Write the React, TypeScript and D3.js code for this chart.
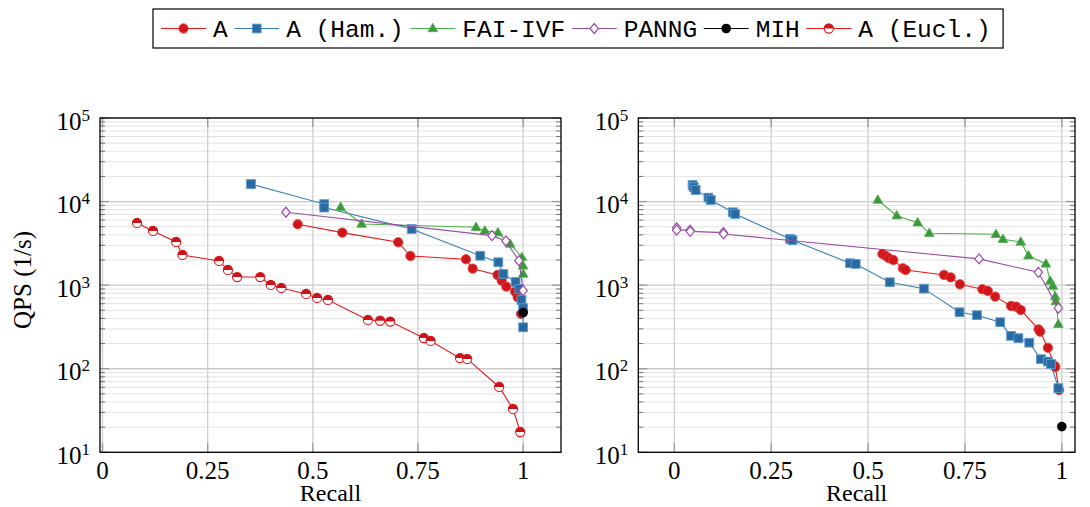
import React from "react";
import * as d3 from "d3";

// ---------- data ----------
const xTicks = [0, 0.25, 0.5, 0.75, 1];
const xTickLabels = ["0", "0.25", "0.5", "0.75", "1"];
const yTickExps = [1, 2, 3, 4, 5];
const seriesNames = ["A", "A (Ham.)", "FAI-IVF", "PANNG", "MIH", "A (Eucl.)"];

type Pt = [number, number];

// Left panel
const leftA: Pt[] = [
  [0.464, 5350], [0.57, 4250], [0.703, 3260], [0.732, 2230], [0.864, 2040], [0.88, 1575],
  [0.939, 1325], [0.949, 1132], [0.96, 960], [0.981, 836], [0.987, 716], [0.995, 453],
];
const leftHam: Pt[] = [
  [0.353, 16200], [0.527, 9330], [0.527, 8480], [0.735, 4700], [0.898, 2250], [0.941, 1880],
  [0.953, 1360], [0.982, 1090], [0.991, 900], [0.996, 665], [1.0, 530], [1.0, 313],
];
const leftFai: Pt[] = [
  [0.566, 8550], [0.616, 5400], [0.888, 4920], [0.909, 4480], [0.94, 4250], [0.969, 3110],
  [0.997, 2150], [1.0, 1700], [1.0, 1360],
];
const leftPanng: Pt[] = [
  [0.436, 7450], [0.926, 3910], [0.959, 3380], [0.99, 1960], [1.0, 860],
];
const leftMih: Pt[] = [[1.0, 469]];
const leftEucl: Pt[] = [
  [0.082, 5550], [0.12, 4450], [0.175, 3290], [0.19, 2300], [0.277, 1950], [0.298, 1520],
  [0.32, 1250], [0.375, 1250], [0.4, 1005], [0.425, 925], [0.484, 785], [0.51, 703],
  [0.536, 665], [0.631, 384], [0.66, 375], [0.684, 367], [0.764, 233], [0.78, 215],
  [0.85, 134], [0.867, 131], [0.943, 60.5], [0.976, 33], [0.993, 17.5],
];

// Right panel
const rightA: Pt[] = [
  [0.537, 2360], [0.546, 2235], [0.554, 2100], [0.565, 2000], [0.59, 1590], [0.597, 1520],
  [0.696, 1325], [0.713, 1240], [0.737, 1023], [0.795, 893], [0.809, 852], [0.828, 729],
  [0.869, 564], [0.882, 553], [0.894, 505], [0.94, 296], [0.944, 278], [0.964, 178],
  [0.981, 109], [0.983, 105], [0.993, 55.7],
];
const rightHam: Pt[] = [
  [0.047, 15800], [0.05, 14900], [0.055, 13770], [0.088, 11150], [0.094, 10450],
  [0.151, 7450], [0.157, 7110], [0.299, 3570], [0.305, 3450], [0.4535, 1830], [0.468, 1795],
  [0.556, 1083], [0.644, 908], [0.736, 474], [0.781, 437], [0.841, 360], [0.869, 247],
  [0.888, 232], [0.916, 205], [0.946, 130], [0.964, 122], [0.972, 114], [0.991, 58.5],
];
const rightFai: Pt[] = [
  [0.525, 10450], [0.574, 6780], [0.628, 5590], [0.658, 4180], [0.83, 4060], [0.848, 3540],
  [0.894, 3290], [0.914, 2250], [0.959, 1795], [0.97, 1120], [0.977, 977], [0.983, 729],
  [0.9845, 635], [0.991, 340],
];
const rightPanng: Pt[] = [
  [0.006, 4850], [0.006, 4550], [0.0405, 4550], [0.041, 4400], [0.1265, 4250], [0.127, 4100],
  [0.7865, 2060], [0.9396, 1425], [0.991, 530],
];
const rightMih: Pt[] = [[1.0, 20.3]];
const rightEucl: Pt[] = [];

// ---------- styles ----------
const RED = "#e41a1c";
const styles = [
  { line: RED, marker: "circle" },
  { line: "#377eb8", marker: "square" },
  { line: "#4daf4a", marker: "triangle" },
  { line: "#984ea3", marker: "diamond" },
  { line: "#000000", marker: "dot" },
  { line: RED, marker: "half" },
];

const SERIF = "'Liberation Serif', 'DejaVu Serif', serif";
const MONO = "'Liberation Mono', 'DejaVu Sans Mono', monospace";

const TOP = 118;
const BOTTOM = 452.3;

function Marker({ type, x, y }: { type: string; x: number; y: number }) {
  switch (type) {
    case "circle":
      return <circle cx={x} cy={y} r={4.7} fill="#d1161b" stroke="#e8403f" strokeWidth={0.8} />;
    case "square":
      return <rect x={x - 4.4} y={y - 4.4} width={8.8} height={8.8} fill="#2b6aa1" stroke="#5d9cd3" strokeWidth={0.9} />;
    case "triangle":
      return (
        <path d={`M${x},${y - 5.2}L${x + 4.8},${y + 3.2}L${x - 4.8},${y + 3.2}Z`} fill="#3b9a3b" stroke="#4daf4a" strokeWidth={0.8} />
      );
    case "diamond":
      return (
        <path d={`M${x},${y - 5}L${x + 4.2},${y}L${x},${y + 5}L${x - 4.2},${y}Z`} fill="#ffffff" stroke="#984ea3" strokeWidth={1.2} />
      );
    case "dot":
      return <circle cx={x} cy={y} r={4.8} fill="#000000" />;
    case "half":
      return (
        <g>
          <circle cx={x} cy={y} r={4.6} fill="#ffffff" stroke={RED} strokeWidth={1.1} />
          <path d={`M${x - 4.6},${y}A4.6,4.6 0 0 1 ${x + 4.6},${y}Z`} fill="#c8141a" />
        </g>
      );
  }
  return null;
}

function Panel({ left, right, xDomain, series }: { left: number; right: number; xDomain: [number, number]; series: Pt[][] }) {
  const x = d3.scaleLinear().domain(xDomain).range([left, right]);
  const y = d3.scaleLog().domain([10, 1e5]).range([BOTTOM, TOP]);
  const minors: number[] = [];
  for (let e = 1; e < 5; e++) for (let k = 2; k <= 9; k++) minors.push(k * Math.pow(10, e));
  const line = d3.line<Pt>().x((d) => x(d[0])).y((d) => y(d[1]));
  return (
    <g>
      {minors.map((v) => (
        <line key={"mg" + v} x1={left} x2={right} y1={y(v)} y2={y(v)} stroke="#e3e3e3" strokeWidth={1} />
      ))}
      {yTickExps.map((e) => (
        <line key={"Mg" + e} x1={left} x2={right} y1={y(Math.pow(10, e))} y2={y(Math.pow(10, e))} stroke="#c9c9c9" strokeWidth={1.3} />
      ))}
      {xTicks.map((t) => (
        <line key={"xg" + t} x1={x(t)} x2={x(t)} y1={TOP} y2={BOTTOM} stroke="#cfcfcf" strokeWidth={1.3} />
      ))}
      {minors.map((v) => (
        <g key={"mt" + v}>
          <line x1={left} x2={left + 5} y1={y(v)} y2={y(v)} stroke="#666" strokeWidth={0.9} />
          <line x1={right} x2={right - 5} y1={y(v)} y2={y(v)} stroke="#666" strokeWidth={0.9} />
        </g>
      ))}
      {yTickExps.map((e) => (
        <g key={"Mt" + e}>
          <line x1={left} x2={left + 9} y1={y(Math.pow(10, e))} y2={y(Math.pow(10, e))} stroke="#999" strokeWidth={1.3} />
          <line x1={right} x2={right - 9} y1={y(Math.pow(10, e))} y2={y(Math.pow(10, e))} stroke="#999" strokeWidth={1.3} />
        </g>
      ))}
      {xTicks.map((t) => (
        <g key={"xt" + t}>
          <line x1={x(t)} x2={x(t)} y1={BOTTOM} y2={BOTTOM - 9} stroke="#999" strokeWidth={1.3} />
          <line x1={x(t)} x2={x(t)} y1={TOP} y2={TOP + 9} stroke="#999" strokeWidth={1.3} />
        </g>
      ))}
      {series.map((pts, i) => (
        <g key={"s" + i}>
          {pts.length > 1 && <path d={line(pts) || ""} fill="none" stroke={styles[i].line} strokeWidth={1.1} />}
          {pts.map((p, j) => (
            <Marker key={j} type={styles[i].marker} x={x(p[0])} y={y(p[1])} />
          ))}
        </g>
      ))}
      <rect x={left} y={TOP} width={right - left} height={BOTTOM - TOP} fill="none" stroke="#000" strokeWidth={1.3} />
      {xTicks.map((t, i) => (
        <text key={"xl" + t} x={x(t)} y={479} textAnchor="middle" fontFamily={SERIF} fontSize={25} fill="#000">
          {xTickLabels[i]}
        </text>
      ))}
      {yTickExps.map((e) => (
        <text key={"yl" + e} x={left - 10} y={y(Math.pow(10, e)) + 11.5} textAnchor="end" fontFamily={SERIF} fontSize={25} fill="#000">
          10<tspan dy={-9} fontSize={17}>{e}</tspan>
        </text>
      ))}
      <text x={(left + right) / 2} y={501} textAnchor="middle" fontFamily={SERIF} fontSize={24} fill="#000">
        Recall
      </text>
    </g>
  );
}

function Legend() {
  const fs = 24.5;
  const cw = fs * 0.6;
  let cx = 161;
  const items = seriesNames.map((name, i) => {
    const lx = cx;
    const tx = lx + 52;
    cx = tx + name.length * cw + 6.5;
    return { name, i, lx, tx };
  });
  const boxRight = cx + 6;
  return (
    <g>
      <rect x={153} y={9} width={boxRight - 153} height={39} fill="#fff" stroke="#000" strokeWidth={1.2} />
      {items.map((it) => (
        <g key={it.name}>
          <line x1={it.lx} x2={it.lx + 45} y1={28.5} y2={28.5} stroke={styles[it.i].line} strokeWidth={1.1} />
          <Marker type={styles[it.i].marker} x={it.lx + 22.5} y={28.5} />
          <text x={it.tx} y={36.5} fontFamily={MONO} fontSize={fs} fill="#000">
            {it.name}
          </text>
        </g>
      ))}
    </g>
  );
}

export default function App() {
  return (
    <svg width={1090} height={507} style={{ position: "absolute", left: 0, top: 0, background: "#fff" }}>
      <rect width={1090} height={507} fill="#fff" />
      <Legend />
      <Panel left={100} right={561} xDomain={[-0.006, 1.09]} series={[leftA, leftHam, leftFai, leftPanng, leftMih, leftEucl]} />
      <Panel left={638.3} right={1075} xDomain={[-0.093, 1.034]} series={[rightA, rightHam, rightFai, rightPanng, rightMih, rightEucl]} />
      <text transform="translate(31,280) rotate(-90)" textAnchor="middle" fontFamily={SERIF} fontSize={25} fill="#000">
        QPS (1/s)
      </text>
    </svg>
  );
}
